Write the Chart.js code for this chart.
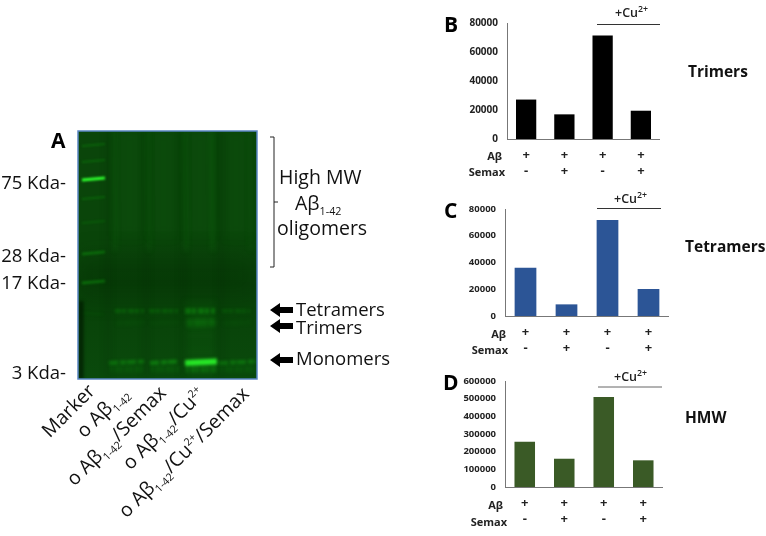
<!DOCTYPE html>
<html lang="en">
<head>
<meta charset="UTF-8">
<title>Semax and copper effect on amyloid oligomers</title>
<script src="https://cdn.jsdelivr.net/npm/chart.js"></script>
<style>
    html, body { margin: 0; padding: 0; background: #fff; }
    #page { position: relative; width: 766px; height: 536px; overflow: hidden; font-family: "Open Sans", sans-serif; color: #111; filter: blur(0.35px); }
    #page canvas { position: absolute; }
    #page svg { position: absolute; left: 0; top: 0; }
    .t { position: absolute; white-space: nowrap; line-height: 1; transform: translateY(-50%); }
    .a { font-size: 18.5px; }
    .end { transform: translate(-100%, -50%); }
    .letter { font-size: 21px; font-weight: 700; color: #000; }
    .title { font-size: 15.5px; font-weight: 700; color: #111; }
    .row { font-size: 11px; font-weight: 700; color: #222; }
    .cu { font-size: 12.5px; font-weight: 600; color: #222; }
    .cu sup { font-size: 70%; }
    .slant { position: absolute; white-space: nowrap; line-height: 1; font-size: 19.5px; transform-origin: 100% 50%; transform: translate(-100%, -50%) rotate(-45deg); }
    sub, sup { font-size: 55%; line-height: 0; }
</style>
</head>
<body>
<div id="page">
    <canvas id="gel" style="left:78px; top:131px" width="179" height="248"></canvas>
    <canvas id="chartB" style="left:440px; top:13px" width="220" height="170"></canvas>
    <canvas id="chartC" style="left:440px; top:199px" width="229" height="160"></canvas>
    <canvas id="chartD" style="left:440px; top:371px" width="223" height="160"></canvas>

    <svg width="766" height="536">
        <rect x="78" y="131" width="179" height="248" fill="none" stroke="#5b86c4" stroke-width="1.5"/>
        <path d="M270 137H274V267H270M274 202H278" fill="none" stroke="#222" stroke-width="1"/>
        <path d="M270 310L280 303V307H293V313H280V317Z M270 326L280 319V323H293V329H280V333Z M270 360L280 353V357H293V363H280V367Z" fill="#000"/>
        <path d="M597 24.5H660M597 208.5H661" stroke="#333" stroke-width="1"/>
        <path d="M598 387H662" stroke="#666" stroke-width="1"/>
    </svg>

    <div class="t letter" style="left:51px; top:140px">A</div>
    <div class="t a end" style="left:66px; top:182px">75 Kda-</div>
    <div class="t a end" style="left:66px; top:255px">28 Kda-</div>
    <div class="t a end" style="left:66px; top:282px">17 Kda-</div>
    <div class="t a end" style="left:66px; top:372px">3 Kda-</div>
    <div class="t a" style="left:279px; top:177px; font-size:19.5px">High MW</div>
    <div class="t a" style="left:295px; top:203px; font-size:19.5px">Aβ<sub>1-42</sub></div>
    <div class="t a" style="left:277px; top:228px; font-size:19.5px">oligomers</div>
    <div class="t a" style="left:296px; top:309px">Tetramers</div>
    <div class="t a" style="left:296px; top:327px">Trimers</div>
    <div class="t a" style="left:296px; top:358px">Monomers</div>

    <div class="slant" style="left:91px; top:387px">Marker</div>
    <div class="slant" style="left:124px; top:389px">o Aβ<sub>1-42</sub></div>
    <div class="slant" style="left:162px; top:389px">o Aβ<sub>1-42</sub>/Semax</div>
    <div class="slant" style="left:201px; top:390px">o Aβ<sub>1-42</sub>/Cu<sup>2+</sup></div>
    <div class="slant" style="left:245px; top:390px">o Aβ<sub>1-42</sub>/Cu<sup>2+</sup>/Semax</div>

    <div class="t letter" style="left:444px; top:24px">B</div>
    <div class="t cu" style="left:615px; top:13px">+Cu<sup>2+</sup></div>
    <div class="t title" style="left:688px; top:72px">Trimers</div>
    <div class="t row end" style="left:502px; top:155px">Aβ</div>
    <div class="t row end" style="left:505px; top:171px">Semax</div>

    <div class="t letter" style="left:444px; top:210px">C</div>
    <div class="t cu" style="left:614px; top:199px">+Cu<sup>2+</sup></div>
    <div class="t title" style="left:685px; top:247px">Tetramers</div>
    <div class="t row end" style="left:506px; top:333px">Aβ</div>
    <div class="t row end" style="left:508px; top:349px">Semax</div>

    <div class="t letter" style="left:443px; top:382px">D</div>
    <div class="t cu" style="left:614px; top:377px">+Cu<sup>2+</sup></div>
    <div class="t title" style="left:685px; top:418px">HMW</div>
    <div class="t row end" style="left:503px; top:504px">Aβ</div>
    <div class="t row end" style="left:507px; top:521px">Semax</div>
</div>

<script>
    // bar panels
    const abSigns = ['+', '+', '+', '+'];
    const semaxSigns = ['-', '+', '-', '+'];
    const trimerValues = [27200, 17000, 71400, 19500];
    const tetramerValues = [36100, 8700, 71800, 20200];
    const hmwValues = [256000, 160000, 509000, 151000];
    const smallAxisTicks = [0, 20000, 40000, 60000, 80000];
    const hmwAxisTicks = [0, 100000, 200000, 300000, 400000, 500000, 600000];

    // gel, positions in gel pixels from top left
    const markerBandY = [14, 30, 48, 67, 91, 122, 151];
    const markerBandLevel = [0.26, 0.26, 1.0, 0.26, 0.18, 0.34, 0.4];
    const laneStart = [37, 71, 107, 144];
    const laneEnd = [66, 100, 137, 172];
    const tetramerY = 180;
    const tetramerLevel = [0.24, 0.22, 0.36, 0.16];
    const trimerY = 192;
    const trimerLevel = [0.08, 0.03, 0.28, 0.08];
    const monomerY = 231;
    const monomerStart = [31, 72, 107, 141];
    const monomerEnd = [66, 101, 139, 178];
    const monomerLevel = [0.36, 0.42, 0.95, 0.36];
    const smearX = [36, 70, 107, 134, 172];
    const smearLevel = [0.2, 0.22, 0.28, 0.26, 0.1];
    const laneGapX = [30, 68, 105, 143];

    function barPanel(id, values, ticks, colour, tickFont, chartLeft, axisTop, axisHeight, barRatio) {
        const canvas = document.getElementById(id);
        const labels = abSigns.map((s, i) => [s, semaxSigns[i]]);
        return new Chart(canvas, {
            type: 'bar',
            data: {
                labels: labels,
                datasets: [{ data: values, backgroundColor: colour, categoryPercentage: 1, barPercentage: barRatio }]
            },
            options: {
                responsive: false,
                animation: false,
                layout: { padding: { top: axisTop, left: 0, right: 0, bottom: 0 } },
                plugins: { legend: { display: false }, tooltip: { enabled: false } },
                scales: {
                    x: {
                        grid: { display: false, drawTicks: false },
                        border: { color: '#777', width: 1 },
                        ticks: {
                            autoSkip: false, maxRotation: 0, padding: 8,
                            color: '#222',
                            font: { family: 'Open Sans', size: 13, weight: '700', lineHeight: 1.25 }
                        },
                        afterFit: s => { s.height = canvas.height - axisTop - axisHeight; }
                    },
                    y: {
                        min: ticks[0],
                        max: ticks[ticks.length - 1],
                        afterBuildTicks: s => { s.ticks = ticks.map(v => ({ value: v })); },
                        grid: { display: false, drawTicks: false },
                        border: { color: '#777', width: 1 },
                        ticks: {
                            padding: 9,
                            color: '#222',
                            font: { family: 'Open Sans', size: tickFont, weight: '700' },
                            callback: v => String(v)
                        },
                        // the fixed width lines the axis up, zero padding keeps the top tick on the canvas padding
                        afterFit: s => { s.width = chartLeft; s.paddingTop = 0; s.paddingBottom = 0; }
                    }
                }
            }
        });
    }

    barPanel('chartB', trimerValues, smallAxisTicks, '#000000', 10, 67, 10, 116, 0.53);
    barPanel('chartC', tetramerValues, smallAxisTicks, '#2c5596', 9.5, 65, 10, 107, 0.53);
    barPanel('chartD', hmwValues, hmwAxisTicks, '#3a5a26', 9.5, 65, 10, 106, 0.52);

    // one gel streak: a thick blurred line on the gel's own scales
    function streak(x0, y0, x1, y1, width, colour, blur, dash) {
        return {
            data: [{ x: x0, y: y0 }, { x: x1, y: y1 }],
            showLine: true, pointRadius: 0, borderWidth: width, borderColor: colour,
            borderCapStyle: 'butt', borderDash: dash || [], blur: blur
        };
    }
    function green(level) {
        const g = Math.round(120 + 135 * level);
        const rb = Math.round(45 * level);
        return `rgba(${rb},${g},${rb},${0.12 + 0.88 * level})`;
    }

    const gelSets = [];
    // dark gaps between lanes and the dim stretch under the wells
    laneGapX.forEach(x => gelSets.push(streak(x, 0, x, 248, 4, 'rgba(0,28,0,0.2)', 3)));
    gelSets.push(streak(0, 145, 179, 145, 40, 'rgba(0,30,0,0.18)', 12));
    gelSets.push(streak(3, 170, 3, 248, 5, 'rgba(0,20,0,0.65)', 1.5));
    // lane smears
    smearX.forEach((x, i) => gelSets.push(streak(x, 0, x + 1, 120, 3, `rgba(20,140,20,${smearLevel[i]})`, 2.5)));
    laneStart.forEach((x, i) => gelSets.push(streak((x + laneEnd[i]) / 2, 0, (x + laneEnd[i]) / 2, 105, 24, 'rgba(20,120,20,0.1)', 6)));
    gelSets.push(streak(122, 170, 122, 245, 30, 'rgba(20,130,20,0.12)', 3, [7, 3, 4, 2]));
    // marker ladder
    markerBandY.forEach((y, i) => {
        gelSets.push(streak(4, y + 1, 27, y - 1, i === 2 ? 3 : (i > 4 ? 3 : 2), green(markerBandLevel[i]), 0.9));
    });
    gelSets.push(streak(4, 182, 25, 183, 1.5, green(0.05), 1.5));
    // sample lanes
    laneStart.forEach((x, i) => {
        gelSets.push(streak(x, tetramerY, laneEnd[i], tetramerY, i === 2 ? 6 : 4, green(tetramerLevel[i]), 1.7, [6, 1, 4, 2]));
        gelSets.push(streak(x + 2, trimerY, laneEnd[i], trimerY - 1, i === 2 ? 8 : 3, green(trimerLevel[i]), 2, [5, 2, 7, 1]));
    });
    monomerStart.forEach((x, i) => {
        gelSets.push(streak(x, monomerY + 1, monomerEnd[i], monomerY - 0.5, i === 2 ? 6 : 4, green(monomerLevel[i]), i === 2 ? 1.5 : 1.5, i === 2 ? [] : [9, 2, 6, 1]));
        gelSets.push(streak(x + 1, monomerY + 7, monomerEnd[i], monomerY + 7, 7, green(monomerLevel[i] * 0.3), 1.8, [3, 2, 4, 1]));
    });

    new Chart(document.getElementById('gel'), {
        type: 'scatter',
        data: { datasets: gelSets },
        options: {
            responsive: false,
            animation: false,
            layout: { padding: 0 },
            plugins: { legend: { display: false }, tooltip: { enabled: false } },
            scales: {
                x: { display: false, min: 0, max: 179 },
                y: { display: false, min: 0, max: 248, reverse: true }
            }
        },
        plugins: [{
            id: 'gelStyle',
            beforeDraw(chart) {
                const { ctx, width, height } = chart;
                const fill = ctx.createLinearGradient(0, 0, 0, height);
                fill.addColorStop(0, '#0a450a');
                fill.addColorStop(0.45, '#0a450a');
                fill.addColorStop(0.62, '#084008');
                fill.addColorStop(1, '#0a4a0c');
                ctx.fillStyle = fill;
                ctx.fillRect(0, 0, width, height);
            },
            beforeDatasetDraw(chart, args) {
                chart.ctx.save();
                chart.ctx.filter = `blur(${chart.data.datasets[args.index].blur}px)`;
            },
            afterDatasetDraw(chart) {
                chart.ctx.restore();
            }
        }]
    });
</script>
</body>
</html>
